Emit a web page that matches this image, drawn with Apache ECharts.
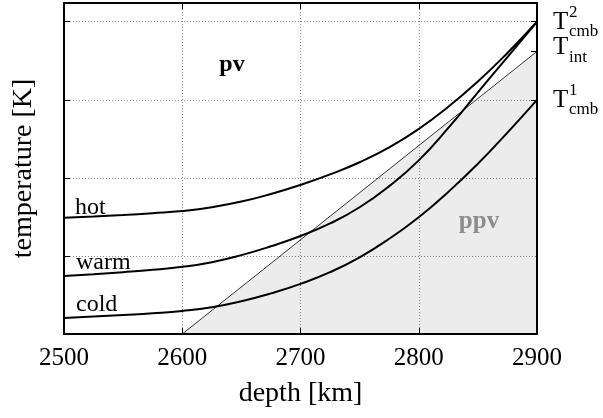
<!DOCTYPE html>
<html><head><meta charset="utf-8">
<script src="https://cdn.jsdelivr.net/npm/echarts@6/dist/echarts.min.js"></script>
<style>html,body{margin:0;padding:0;background:#fff}#c{width:603px;height:418px}</style>
</head><body><div id="c"></div>
<script>
// ---- data ----
const depths   = [2500, 2525, 2550, 2575, 2600, 2625, 2650, 2675, 2700, 2725, 2750, 2775, 2800, 2825, 2850, 2875, 2900];
const hotTemp  = [2744, 2752, 2762, 2774, 2788, 2812, 2848, 2897, 2955, 3022, 3100, 3195, 3313, 3455, 3617, 3800, 4000];
const warmTemp = [2372, 2383, 2396, 2411, 2430, 2460, 2505, 2562, 2628, 2708, 2812, 2947, 3112, 3320, 3548, 3774, 4000];
const coldTemp = [2103, 2112, 2122, 2133, 2148, 2172, 2210, 2260, 2321, 2396, 2491, 2610, 2748, 2910, 3090, 3290, 3500];
const boundaryDepth = [2600, 2900];
const boundaryTemp  = [2000, 3810];
const depthTicks = [2500, 2600, 2700, 2800, 2900];
const rightTickTemps = [3500, 3810, 4000];
const rightTickLabels = [
  {main: 'T', sup: '1', sub: 'cmb', temp: 3500},
  {main: 'T', sup: '',  sub: 'int', temp: 3810},
  {main: 'T', sup: '2', sub: 'cmb', temp: 4000}
];
const curveNames = ['hot', 'warm', 'cold'];

const FONT = 'Liberation Serif';
const zip = (a, b) => a.map((v, i) => [v, b[i]]);

const chart = echarts.init(document.getElementById('c'), null, {renderer: 'canvas'});
const gridLine = {show: true, lineStyle: {color: '#8a8a8a', width: 1, type: [1, 2]}};
const curveStyle = {color: '#000', width: 2};

chart.setOption({
  animation: false,
  backgroundColor: '#fff',
  grid: {left: 64, right: 66, top: 3, bottom: 84},
  xAxis: [{
    type: 'value', min: 2500, max: 2900, interval: 100, position: 'bottom',
    name: 'depth [km]', nameLocation: 'middle', nameGap: 46,
    nameTextStyle: {fontFamily: FONT, fontSize: 28, color: '#000'},
    axisLine: {show: true, lineStyle: {color: '#000', width: 2}},
    axisTick: {show: true, inside: true, length: 6, lineStyle: {color: '#000', width: 1}},
    axisLabel: {show: true, margin: 12, fontFamily: FONT, fontSize: 25, color: '#000',
      formatter: v => depthTicks.includes(v) ? String(v) : ''},
    splitLine: gridLine
  }, {
    type: 'value', min: 2500, max: 2900, interval: 100, position: 'top',
    axisLine: {show: true, onZero: false, lineStyle: {color: '#000', width: 2}},
    axisTick: {show: true, inside: true, length: 6, lineStyle: {color: '#000', width: 1}},
    axisLabel: {show: false}, splitLine: {show: false}
  }],
  yAxis: [{
    type: 'value', min: 2000, max: 4120, interval: 500, position: 'left',
    name: 'temperature [K]', nameLocation: 'middle', nameGap: 26, nameRotate: 90,
    nameTextStyle: {fontFamily: FONT, fontSize: 28, color: '#000'},
    axisLine: {show: true, lineStyle: {color: '#000', width: 2}},
    axisTick: {show: true, inside: true, length: 6, lineStyle: {color: '#000', width: 1}},
    axisLabel: {show: false},
    splitLine: gridLine
  }, {
    type: 'value', min: 2000, max: 4120, position: 'right',
    axisLine: {show: true, onZero: false, lineStyle: {color: '#000', width: 2}},
    axisTick: {show: true, inside: true, length: 6, customValues: rightTickTemps, lineStyle: {color: '#000', width: 1}},
    axisLabel: {show: false}, splitLine: {show: false}
  }],
  series: [{
    type: 'line', name: 'ppv boundary', data: zip(boundaryDepth, boundaryTemp),
    symbol: 'none', lineStyle: {color: '#000', width: 0.8},
    areaStyle: {color: 'rgba(0,0,0,0.105)', origin: 'start'}, z: 2
  }, {
    type: 'line', name: curveNames[0], data: zip(depths, hotTemp), symbol: 'none',
    smooth: 0.5, lineStyle: curveStyle, z: 3
  }, {
    type: 'line', name: curveNames[1], data: zip(depths, warmTemp), symbol: 'none',
    smooth: 0.5, lineStyle: curveStyle, z: 3
  }, {
    type: 'line', name: curveNames[2], data: zip(depths, coldTemp), symbol: 'none',
    smooth: 0.5, lineStyle: curveStyle, z: 3
  }]
});

// ---- text annotations ----
const px = (x, y) => chart.convertToPixel({gridIndex: 0}, [x, y]);
const els = [];
const txt = (x, y, s, size, opts) => els.push(Object.assign({
  type: 'text', x: x, y: y, z: 10,
  style: Object.assign({text: s, font: size + 'px "' + FONT + '"', fill: '#000',
    textAlign: 'left', textVerticalAlign: 'middle'}, (opts || {}))
}));
const right = px(2900, 2000)[0];
// curve labels
txt(75, 208, curveNames[0], 24);
txt(76, 263, curveNames[1], 24);
txt(76, 305, curveNames[2], 24);
// phase labels
txt(232, 65, 'pv', 24, {font: 'bold 24px "' + FONT + '"', textAlign: 'center'});
txt(479, 222, 'ppv', 25, {font: 'bold 25px "' + FONT + '"', fill: '#8c8c8c', textAlign: 'center'});
// right-hand T labels
rightTickLabels.forEach(l => {
  const ty = px(2900, l.temp)[1];
  const isInt = l.sub === 'int';
  txt(right + 16, ty + (isInt ? -4 : 1), l.main, 25);
  if (l.sup) txt(right + 32, ty - 9, l.sup, 17);
  txt(right + 32, ty + (isInt ? 6 : 10), l.sub, 17);
});
chart.setOption({graphic: {elements: els}});
</script>
</body></html>
